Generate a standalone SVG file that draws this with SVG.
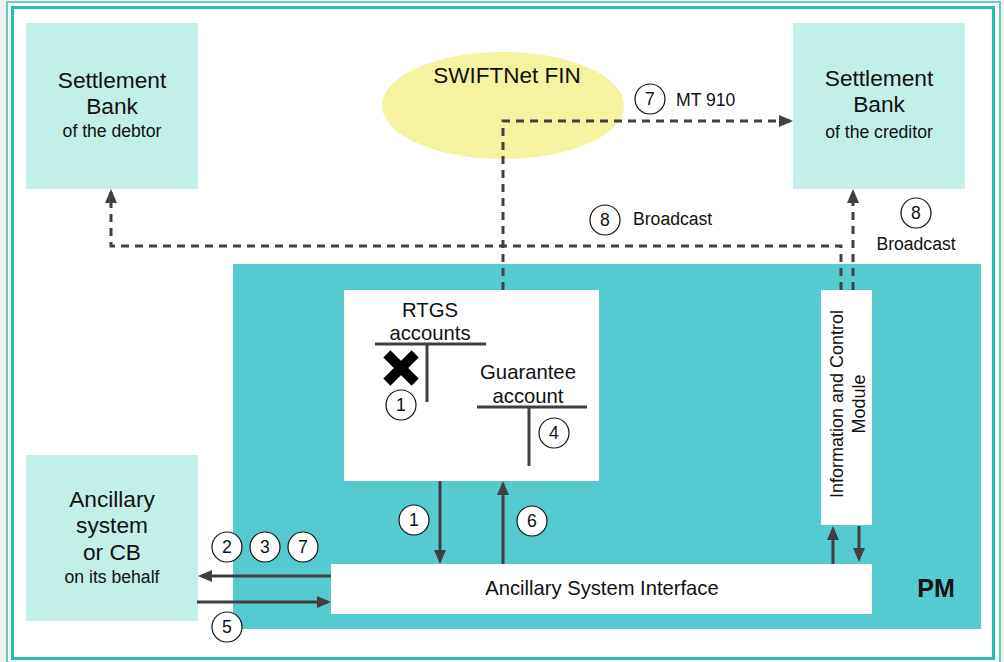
<svg xmlns="http://www.w3.org/2000/svg" width="1004" height="662" viewBox="0 0 1004 662">
<style>
text{font-family:"Liberation Sans",Arial,sans-serif;fill:#111;text-anchor:middle}
.big{font-size:22.7px}
.mid{font-size:20.3px}
.sm{font-size:17.6px}
.bank{fill:#c2efe8}
.white{fill:#fff}
.conn{fill:none;stroke:#404040;stroke-width:3}
.dash{stroke-dasharray:8 6}
.num{fill:#fff;stroke:#111;stroke-width:1.2}
.tacc{stroke:#404040;stroke-width:3;fill:none}
</style>
<defs>
<marker id="ah" viewBox="0 0 14 12" refX="11" refY="6" markerWidth="14" markerHeight="12" markerUnits="userSpaceOnUse" orient="auto">
<path d="M0,0 L14,6 L0,12 z" fill="#404040"/>
</marker>
</defs>
<rect x="0" y="0" width="1004" height="662" fill="#f1f1ec"/>
<rect x="7" y="2" width="993" height="662" fill="#fff" stroke="#6cc6c2" stroke-width="2"/>
<rect x="12.5" y="7.5" width="981" height="651" fill="#fff" stroke="#1fbfc0" stroke-width="3"/>

<g id="pm">
<rect x="233" y="264" width="748" height="365" fill="#55cbd0"/>
<text x="936" y="597" style="font-size:25px;font-weight:bold">PM</text>
</g>

<g id="bank-debtor">
<rect class="bank" x="26" y="23" width="172" height="166"/>
<text class="big" x="112" y="88">Settlement</text>
<text class="big" x="112" y="114">Bank</text>
<text class="sm" x="112" y="137">of the debtor</text>
</g>

<g id="bank-creditor">
<rect class="bank" x="793" y="23" width="172" height="166"/>
<text class="big" x="879" y="86">Settlement</text>
<text class="big" x="879" y="112">Bank</text>
<text class="sm" x="879" y="138">of the creditor</text>
</g>

<g id="swift">
<ellipse cx="503" cy="105.5" rx="121" ry="53.5" fill="#f5f2a0"/>
<text x="507" y="83" style="font-size:22.5px">SWIFTNet FIN</text>
</g>

<g id="ancillary">
<rect class="bank" x="26" y="455" width="172" height="166"/>
<text class="big" x="112" y="507">Ancillary</text>
<text class="big" x="112" y="533">system</text>
<text class="big" x="112" y="560">or CB</text>
<text class="sm" x="112" y="583">on its behalf</text>
</g>

<g id="rtgs">
<rect class="white" x="344" y="290" width="255" height="191"/>
<text class="mid" x="430" y="317">RTGS</text>
<text class="mid" x="430" y="340">accounts</text>
<path class="tacc" d="M375,344 H486 M427,344 V402"/>
<g transform="translate(401,368)">
<rect x="-20" y="-5" width="40" height="10" fill="#000" transform="rotate(45)"/>
<rect x="-20" y="-5" width="40" height="10" fill="#000" transform="rotate(-45)"/>
</g>
<circle class="num" cx="401" cy="405" r="15"/>
<text class="sm" x="401" y="411">1</text>
<text class="mid" x="528" y="379">Guarantee</text>
<text class="mid" x="528" y="403">account</text>
<path class="tacc" d="M477,407 H587 M529,407 V466"/>
<circle class="num" cx="554" cy="433" r="15"/>
<text class="sm" x="554" y="439">4</text>
</g>

<g id="icm">
<rect class="white" x="821" y="290" width="51" height="235"/>
<text transform="translate(843,404) rotate(-90)" style="font-size:18px">Information and Control</text>
<text transform="translate(865,404) rotate(-90)" style="font-size:18px">Module</text>
</g>

<g id="asi">
<rect class="white" x="331" y="564" width="541" height="50"/>
<text x="602" y="595" style="font-size:20.2px">Ancillary System Interface</text>
</g>

<g id="connectors">
<path class="conn dash" d="M503,290 V121 H790" marker-end="url(#ah)"/>
<path class="conn dash" d="M841,290 V246 H111 V192" marker-end="url(#ah)"/>
<path class="conn dash" d="M853,290 V192" marker-end="url(#ah)"/>
<path class="conn" d="M331,576 H201" marker-end="url(#ah)"/>
<path class="conn" d="M197,602 H328" marker-end="url(#ah)"/>
<path class="conn" d="M440,481 V561" marker-end="url(#ah)"/>
<path class="conn" d="M503,564 V484" marker-end="url(#ah)"/>
<path class="conn" d="M833,564 V529" marker-end="url(#ah)"/>
<path class="conn" d="M859,526 V559" marker-end="url(#ah)"/>
</g>

<g id="labels">
<circle class="num" cx="650" cy="99" r="15"/>
<text class="sm" x="650" y="105">7</text>
<text class="sm" x="676" y="106" style="text-anchor:start">MT 910</text>
<circle class="num" cx="605" cy="220" r="15"/>
<text class="sm" x="605" y="226">8</text>
<text class="sm" x="633" y="225" style="text-anchor:start">Broadcast</text>
<circle class="num" cx="916" cy="213" r="15"/>
<text class="sm" x="916" y="219">8</text>
<text class="sm" x="916" y="250">Broadcast</text>
<circle class="num" cx="227" cy="547" r="15"/>
<text class="sm" x="227" y="553">2</text>
<circle class="num" cx="265" cy="547" r="15"/>
<text class="sm" x="265" y="553">3</text>
<circle class="num" cx="303" cy="547" r="15"/>
<text class="sm" x="303" y="553">7</text>
<circle class="num" cx="227" cy="627" r="15"/>
<text class="sm" x="227" y="633">5</text>
<circle class="num" cx="414" cy="520" r="15"/>
<text class="sm" x="414" y="526">1</text>
<circle class="num" cx="532" cy="521" r="15"/>
<text class="sm" x="532" y="527">6</text>
</g>
</svg>
